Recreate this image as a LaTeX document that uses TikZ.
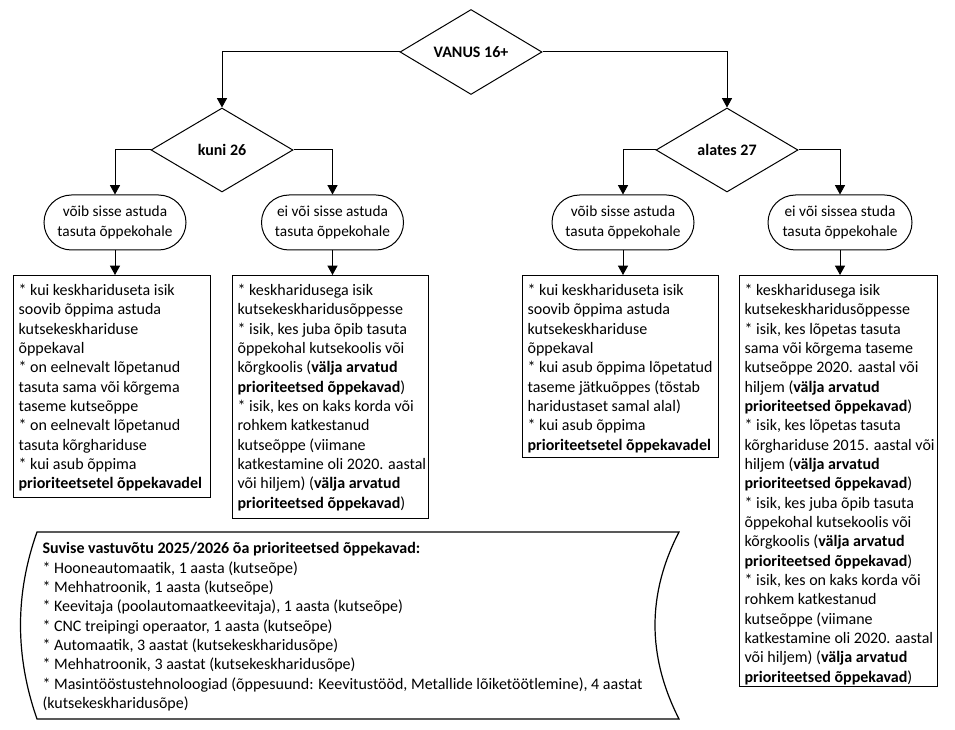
\documentclass[tikz,border=0pt]{standalone}
\usepackage{fontspec}
\setmainfont{Carlito}
\usetikzlibrary{shapes.geometric,shapes.misc,arrows.meta}
\newcommand{\firstrow}{\rule{0pt}{15pt}}
\begin{document}
\begin{tikzpicture}[x=0.75pt,y=-0.75pt,
  line width=0.75pt,
  arr/.style={-{Triangle[length=7pt,width=7.5pt]}},
  dec/.style={diamond, draw, aspect=1.7, inner sep=0pt, minimum width=106.5pt, minimum height=63pt, font=\bfseries\fontsize{12}{14}\selectfont},
  oval/.style={rounded rectangle, draw, inner sep=0pt, minimum width=106.5pt, minimum height=41.25pt, align=center, font=\fontsize{11.5}{14.5}\selectfont},
  txtbox/.style={draw, line width=0.9pt, inner sep=0pt, anchor=north west, font=\fontsize{12}{14.5}\selectfont}
]
\useasboundingbox[fill=white] (0,0) rectangle (955,730);

% decisions
\node[dec, minimum height=63.75pt] (V) at (471,52) {VANUS 16+};
\node[dec] (D1) at (222,150) {kuni 26};
\node[dec] (D2) at (727,150) {alates 27};

% ovals
\node[oval] (O1) at (115,222.5) {võib sisse astuda\\tasuta õppekohale};
\node[oval] (O2) at (332.5,222.5) {ei või sisse astuda\\tasuta õppekohale};
\node[oval] (O3) at (623,222.5) {võib sisse astuda\\tasuta õppekohale};
\node[oval, minimum width=108pt] (O4) at (840,222.5) {ei või sissea studa\\tasuta õppekohale};

% boxes
\node[txtbox] (B1) at (13,275) {\hspace{3.75pt}\parbox[c][166.5pt][t]{144pt}{\begin{tabular}{@{}l@{}}
\firstrow{}* kui keskhariduseta isik\\
soovib õppima astuda\\
kutsekeskhariduse\\
õppekaval\\
{}* on eelnevalt lõpetanud\\
tasuta sama või kõrgema\\
taseme kutseõppe\\
{}* on eelnevalt lõpetanud\\
tasuta kõrghariduse\\
{}* kui asub õppima\\
\textbf{prioriteetsetel õppekavadel}
\end{tabular}}\hspace{3.75pt}};

\node[txtbox] (B2) at (232,275) {\hspace{3.75pt}\parbox[c][182.25pt][t]{143.25pt}{\begin{tabular}{@{}l@{}}
\firstrow{}* keskharidusega isik\\
kutsekeskharidusõppesse\\
{}* isik, kes juba õpib tasuta\\
õppekohal kutsekoolis või\\
kõrgkoolis (\textbf{välja arvatud}\\
\textbf{prioriteetsed õppekavad})\\
{}* isik, kes on kaks korda või\\
rohkem katkestanud\\
kutseõppe (viimane\\
katkestamine oli 2020. aastal\\
või hiljem) (\textbf{välja arvatud}\\
\textbf{prioriteetsed õppekavad})
\end{tabular}}\hspace{3.75pt}};

\node[txtbox] (B3) at (522,275) {\hspace{3.75pt}\parbox[c][136.5pt][t]{143.25pt}{\begin{tabular}{@{}l@{}}
\firstrow{}* kui keskhariduseta isik\\
soovib õppima astuda\\
kutsekeskhariduse\\
õppekaval\\
{}* kui asub õppima lõpetatud\\
taseme jätkuõppes (tõstab\\
haridustaset samal alal)\\
{}* kui asub õppima\\
\textbf{prioriteetsetel õppekavadel}
\end{tabular}}\hspace{3.75pt}};

\node[txtbox] (B4) at (739,275) {\hspace{3.75pt}\parbox[c][308.25pt][t]{144.75pt}{\begin{tabular}{@{}l@{}}
\firstrow{}* keskharidusega isik\\
kutsekeskharidusõppesse\\
{}* isik, kes lõpetas tasuta\\
sama või kõrgema taseme\\
kutseõppe 2020. aastal või\\
hiljem (\textbf{välja arvatud}\\
\textbf{prioriteetsed õppekavad})\\
{}* isik, kes lõpetas tasuta\\
kõrghariduse 2015. aastal või\\
hiljem (\textbf{välja arvatud}\\
\textbf{prioriteetsed õppekavad})\\
{}* isik, kes juba õpib tasuta\\
õppekohal kutsekoolis või\\
kõrgkoolis (\textbf{välja arvatud}\\
\textbf{prioriteetsed õppekavad})\\
{}* isik, kes on kaks korda või\\
rohkem katkestanud\\
kutseõppe (viimane\\
katkestamine oli 2020. aastal\\
või hiljem) (\textbf{välja arvatud}\\
\textbf{prioriteetsed õppekavad})
\end{tabular}}\hspace{3.75pt}};

% stored data shape
\draw[line width=0.9pt] (37,532) -- (679,532)
  .. controls (647,594) and (647,656) .. (679,719)
  -- (37,719)
  .. controls (15,656) and (15,594) .. (37,532) -- cycle;
\node[anchor=north west, inner sep=0pt, align=left, font=\fontsize{12}{14.5}\selectfont] (prio) at (42,542) {%
\textbf{Suvise vastuvõtu 2025/2026 õa prioriteetsed õppekavad:}\\
* Hooneautomaatik, 1 aasta (kutseõpe)\\
* Mehhatroonik, 1 aasta (kutseõpe)\\
* Keevitaja (poolautomaatkeevitaja), 1 aasta (kutseõpe)\\
* CNC treipingi operaator, 1 aasta (kutseõpe)\\
* Automaatik, 3 aastat (kutsekeskharidusõpe)\\
* Mehhatroonik, 3 aastat (kutsekeskharidusõpe)\\
* Masintööstustehnoloogiad (õppesuund: Keevitustööd, Metallide lõiketöötlemine), 4 aastat\\
(kutsekeskharidusõpe)};

% connectors
\draw[arr] (V.west) -| (D1.north);
\draw[arr] (V.east) -| (D2.north);
\draw[arr] (D1.west) -| (O1.north);
\draw[arr] (D1.east) -| (O2.north);
\draw[arr] (D2.west) -| (O3.north);
\draw[arr] (D2.east) -| (O4.north);
\draw[arr] (O1.south) -- (O1.south |- B1.north);
\draw[arr] (O2.south) -- (O2.south |- B2.north);
\draw[arr] (O3.south) -- (O3.south |- B3.north);
\draw[arr] (O4.south) -- (O4.south |- B4.north);
\end{tikzpicture}
\end{document}
